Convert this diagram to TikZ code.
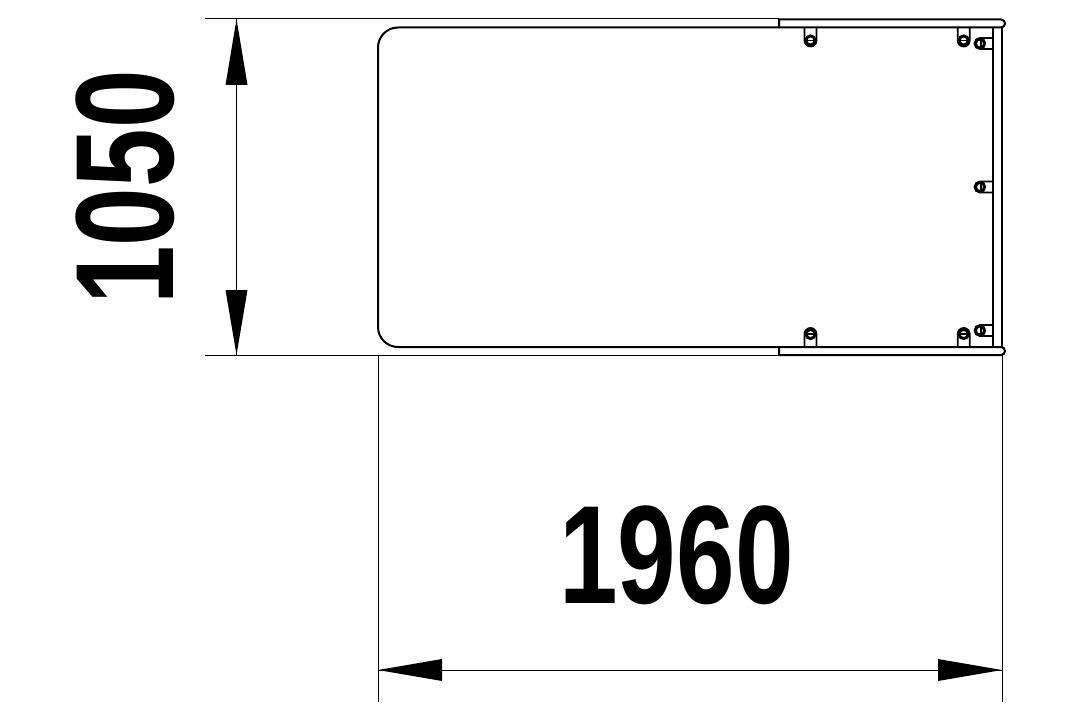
\documentclass[tikz,border=0pt]{standalone}
\usepackage{fontspec}
\setmainfont{Liberation Sans}
\tikzset{
  x=0.75pt,y=-0.75pt,
  thinline/.style={line width=0.75pt,black},
  bodyline/.style={line width=1.5pt,black},
  stud/.style={line width=1.35pt,black},
  studcircle/.style={line width=2.2pt,black},
  headfill/.style={fill=black,draw=none},
  dimtext/.style={font=\bfseries\fontsize{105}{105}\selectfont,inner sep=0pt,text=black},
}
\newcommand{\studdown}[2]{%
  \draw[stud] (#1-6,27) -- (#1-6,#2) arc[start angle=180,end angle=360,x radius=6,y radius=-6] -- (#1+6,27);
  \draw[studcircle] (#1,#2) circle[radius=4.6];
  \draw[stud] (#1-5,#2) -- (#1+5,#2);
}
\newcommand{\studup}[2]{%
  \draw[stud] (#1-6,347) -- (#1-6,#2) arc[start angle=180,end angle=0,x radius=6,y radius=-6] -- (#1+6,347);
  \draw[studcircle] (#1,#2) circle[radius=4.6];
  \draw[stud] (#1-5,#2) -- (#1+5,#2);
}
\newcommand{\studside}[1]{%
  \draw[stud] (993,#1-5.5) -- (980,#1-5.5) arc[start angle=90,end angle=270,x radius=5.5,y radius=-5.5] -- (993,#1+5.5);
  \draw[studcircle] (980,#1) circle[radius=4.6];
  \draw[stud] (981,#1-5) -- (981,#1+5);
}
\begin{document}
\begin{tikzpicture}
\useasboundingbox (0,0) rectangle (1080,720);
\fill[white] (0,0) rectangle (1080,720);
\coordinate (topL) at (205,19);
\coordinate (topR) at (779,19);
\coordinate (botL) at (205,355);
\coordinate (botR) at (1002,355);
\coordinate (vdA) at (236.5,19);
\coordinate (vdB) at (236.5,355);
\coordinate (hdA) at (378,670);
\coordinate (hdB) at (1002,670);
\coordinate (extL0) at (378,355);
\coordinate (extL1) at (378,702);
\coordinate (extR0) at (1002,355);
\coordinate (extR1) at (1002,702);
\draw[thinline] (topL) -- (topR);
\draw[thinline] (botL) -- (botR);
\draw[thinline] (extL0) -- (extL1);
\draw[thinline] (extR0) -- (extR1);
\draw[thinline] (vdA) -- (vdB);
\draw[thinline] (hdA) -- (hdB);
\fill[headfill] (vdA) -- (247.5,85) -- (225.5,85) -- cycle;
\fill[headfill] (vdB) -- (247.5,290) -- (225.5,290) -- cycle;
\fill[headfill] (hdA) -- (442,659) -- (442,681) -- cycle;
\fill[headfill] (hdB) -- (938,659) -- (938,681) -- cycle;
\draw[bodyline] (779,27.5) -- (398,27.5) arc[start angle=90,end angle=180,x radius=20,y radius=-20] -- (378,327) arc[start angle=180,end angle=270,x radius=20,y radius=-20] -- (779,347);
\draw[bodyline] (779,19.5) -- (1001,19.5) arc[start angle=90,end angle=-90,x radius=4,y radius=-4] -- (779,27.5) -- cycle;
\draw[bodyline] (779,347) -- (1001,347) arc[start angle=90,end angle=-90,x radius=4,y radius=-4] -- (779,355) -- cycle;
\draw[bodyline] (993,27.5) -- (993,347);
\draw[bodyline] (1002,27.5) -- (1002,347);
\studdown{810.5}{40.5}
\studdown{963.7}{40.5}
\studup{810.5}{334}
\studup{963.7}{334}
\studside{43.5}
\studside{187}
\studside{330.5}
\node[dimtext,xscale=0.752] (lenlabel) at (676.5,555) {1960};
\node[dimtext,rotate=90] (widthlabel) at (125,187.5) {\scalebox{0.752}[1]{1050}};
\end{tikzpicture}
\end{document}
